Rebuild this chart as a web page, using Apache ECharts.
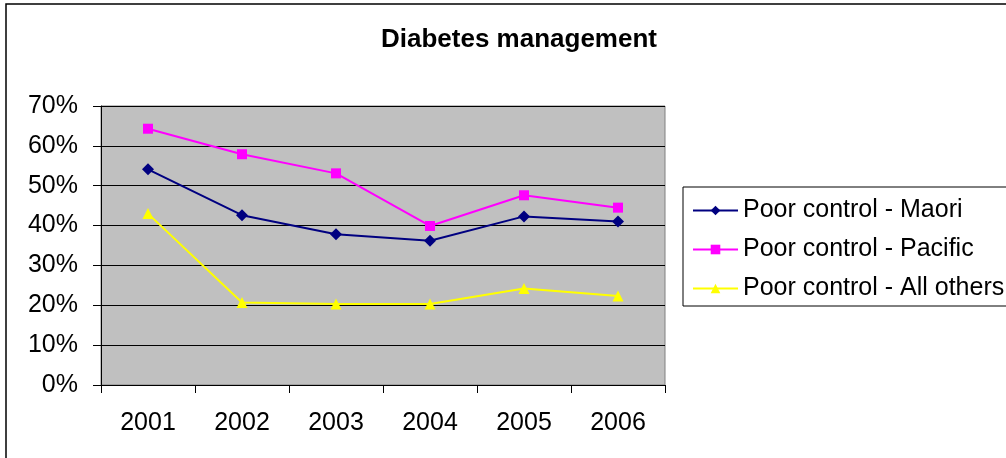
<!DOCTYPE html>
<html>
<head>
<meta charset="utf-8">
<script src="https://cdn.jsdelivr.net/npm/echarts@6/dist/echarts.min.js"></script>
<style>
  html, body { margin: 0; padding: 0; background: #fff; }
  #chart { width: 1006px; height: 458px; }
</style>
</head>
<body>
<div id="chart"></div>
<script>
// Share of diabetes patients with poor control, by year and group (percent)
const years = ['2001', '2002', '2003', '2004', '2005', '2006'];
const maori = [54.1, 42.6, 37.8, 36.2, 42.3, 41.0];
const pacific = [64.3, 57.9, 53.1, 39.9, 47.6, 44.5];
const allOthers = [43.0, 20.7, 20.3, 20.3, 24.2, 22.3];
const seriesNames = ['Poor control - Maori', 'Poor control - Pacific', 'Poor control - All others'];

const FONT = "'Liberation Sans', Arial, sans-serif";

const chart = echarts.init(document.getElementById('chart'), null, { renderer: 'canvas' });

function lineSeries(name, data, color, symbol, size) {
  return {
    name: name,
    type: 'line',
    data: data,
    symbol: symbol,
    symbolSize: size,
    showAllSymbol: true,
    lineStyle: { color: color, width: 2 },
    itemStyle: { color: color },
    emphasis: { disabled: true },
    animation: false
  };
}

chart.setOption({
  animation: false,
  backgroundColor: '#ffffff',
  title: {
    text: 'Diabetes management',
    left: 514,
    top: 22,
    textAlign: 'center',
    textStyle: { fontFamily: FONT, fontSize: 26, fontWeight: 'bold', color: '#000' }
  },
  graphic: [{
    type: 'rect',
    shape: { x: 6, y: 4, width: 1100, height: 1100 },
    style: { fill: 'none', stroke: '#000', lineWidth: 1.5 },
    silent: true,
    z: -1
  }],
  legend: {
    orient: 'vertical',
    left: 683,
    top: 187,
    padding: [11, 12, 5, 9],
    itemWidth: 45,
    itemHeight: 12,
    itemGap: 14,
    borderColor: '#000',
    borderWidth: 1,
    backgroundColor: '#fff',
    selectedMode: false,
    textStyle: { fontFamily: FONT, fontSize: 25, color: '#000', lineHeight: 25 },
    data: seriesNames
  },
  grid: {
    left: 101,
    top: 106,
    width: 564,
    height: 279,
    show: true,
    backgroundColor: '#C0C0C0',
    borderColor: '#808080',
    borderWidth: 1
  },
  xAxis: {
    type: 'category',
    data: years,
    boundaryGap: true,
    axisLine: { show: true, lineStyle: { color: '#000', width: 1 } },
    axisTick: { show: true, length: 8, lineStyle: { color: '#000' } },
    axisLabel: { fontFamily: FONT, fontSize: 25, color: '#000', margin: 26 },
    splitLine: { show: false }
  },
  yAxis: {
    type: 'value',
    min: 0,
    max: 70,
    interval: 10,
    axisLine: { show: true, lineStyle: { color: '#000', width: 1 } },
    axisTick: { show: true, length: 8, lineStyle: { color: '#000' } },
    axisLabel: { fontFamily: FONT, fontSize: 25, color: '#000', margin: 23, formatter: '{value}%' },
    splitLine: { show: true, lineStyle: { color: '#000', width: 1 } }
  },
  series: [
    lineSeries(seriesNames[0], maori, '#000080', 'diamond', 12),
    lineSeries(seriesNames[1], pacific, '#FF00FF', 'rect', 10),
    lineSeries(seriesNames[2], allOthers, '#FFFF00', 'triangle', 11)
  ]
});
</script>
</body>
</html>
